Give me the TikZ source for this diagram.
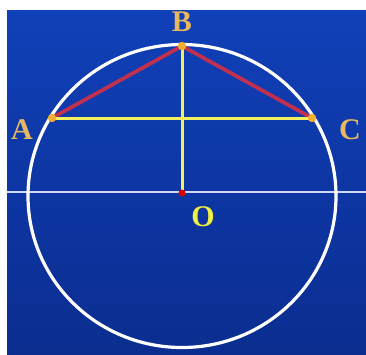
\documentclass[tikz,border=0pt]{standalone}
\usepackage{fontspec}
\setmainfont{Liberation Serif}
\definecolor{bgtop}{HTML}{1040B8}
\definecolor{bgbot}{HTML}{0B2D90}
\definecolor{redline}{HTML}{C03050}
\definecolor{yelline}{HTML}{F2F060}
\definecolor{dotor}{HTML}{F2B030}
\definecolor{lbltan}{HTML}{E8B860}
\definecolor{lblyel}{HTML}{F0F040}
\definecolor{hline}{HTML}{D0D8F6}
\tikzset{
  lbl/.style={font=\bfseries\fontsize{30}{30}\selectfont, inner sep=0pt},
  redseg/.style={draw=redline, line width=3.8pt},
  yelseg/.style={draw=yelline, line width=3pt},
  ptdot/.style={fill=dotor},
}
\begin{document}
\begin{tikzpicture}[x=1pt,y=-1pt]
\useasboundingbox (0,0) rectangle (366,354);
\fill[white] (0,0) rectangle (366,354);
\shade[top color=bgtop, bottom color=bgbot] (7,10) rectangle (366,354);
\coordinate (L) at (7,192);
\coordinate (R) at (366,192);
\coordinate (A) at (52,118);
\coordinate (B) at (182,46);
\coordinate (C) at (312,118);
\coordinate (O) at (182,193);
\draw[hline, line width=2.6pt] (L) -- (R);
\draw[white, line width=3.2pt] (182,196) ellipse [x radius=154, y radius=151.5];
\draw[redseg] (A) -- (B) -- (C);
\draw[yelseg] (A) -- (C);
\draw[yelseg] (B) -- (O);
\fill[ptdot] (A) circle (4.2);
\fill[ptdot] (C) circle (4.2);
\fill[ptdot] (B) circle (4.2);
\fill[red!85!black] (O) circle (3.5);
\node[lbl, text=lbltan] (lB) at (182,22) {B};
\node[lbl, text=lbltan] (lA) at (22,130) {A};
\node[lbl, text=lbltan] (lC) at (350,130) {C};
\node[lbl, text=lblyel] (lO) at (203,217) {O};
\end{tikzpicture}
\end{document}
